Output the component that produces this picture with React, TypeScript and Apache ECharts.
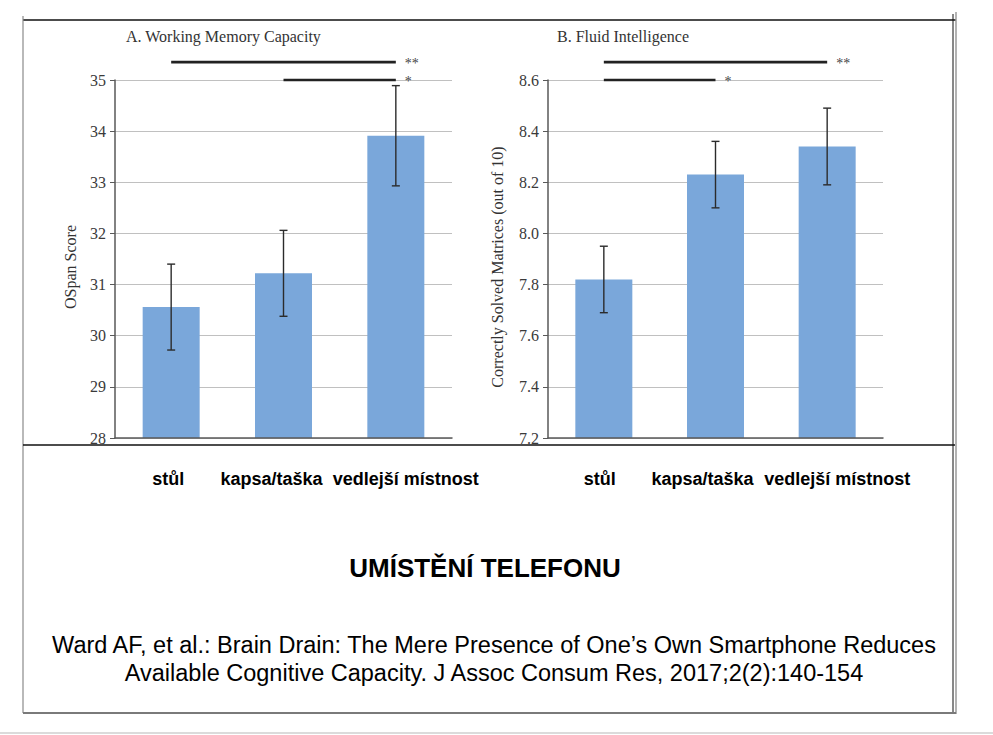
import React, { useEffect, useRef } from "react";
import * as echarts from "echarts";

const categories = ["stůl", "kapsa/taška", "vedlejší místnost"];
const ospanMeans = [30.56, 31.22, 33.91];
const ospanErrors = [0.84, 0.84, 0.98];
const fluidMeans = [7.82, 8.23, 8.34];
const fluidErrors = [0.13, 0.13, 0.15];
// significance brackets: [fromIndex, toIndex, yValue, label]
const sigA: [number, number, number, string][] = [
  [0, 2, 35.35, "**"],
  [1, 2, 35.0, "*"],
];
const sigB: [number, number, number, string][] = [
  [0, 2, 8.67, "**"],
  [0, 1, 8.6, "*"],
];
const titleA = "A. Working Memory Capacity";
const titleB = "B. Fluid Intelligence";
const yNameA = "OSpan Score";
const yNameB = "Correctly Solved Matrices (out of 10)";
const heading = "UMÍSTĚNÍ TELEFONU";
const citation1 = "Ward AF, et al.: Brain Drain: The Mere Presence of One’s Own Smartphone Reduces";
const citation2 = "Available Cognitive Capacity. J Assoc Consum Res, 2017;2(2):140-154";

const SERIF = "'Liberation Serif', 'Times New Roman', serif";
const SANS = "'Liberation Sans', Arial, sans-serif";
const BAR = "#7aa7da";

export default function App() {
  const ref = useRef<HTMLDivElement>(null);
  useEffect(() => {
    document.body.style.margin = "0";
    if (!ref.current) return;
    const chart = echarts.init(ref.current, null, { renderer: "svg" });
    const sigAll = [sigA, sigB];

    const errRender = (params: any, api: any) => {
      const x = api.value(0);
      const v = api.value(1);
      const e = api.value(2);
      const t = api.coord([x, v + e]);
      const b = api.coord([x, v - e]);
      const hw = 4;
      const st = { stroke: "#2b2b2b", lineWidth: 1.4 };
      return {
        type: "group",
        children: [
          { type: "line", shape: { x1: t[0], y1: t[1], x2: b[0], y2: b[1] }, style: st },
          { type: "line", shape: { x1: t[0] - hw, y1: t[1], x2: t[0] + hw, y2: t[1] }, style: st },
          { type: "line", shape: { x1: b[0] - hw, y1: b[1], x2: b[0] + hw, y2: b[1] }, style: st },
        ],
      };
    };
    const sigRender = (params: any, api: any) => {
      const a = api.coord([api.value(0), api.value(2)]);
      const c = api.coord([api.value(1), api.value(2)]);
      const label = sigAll[params.seriesIndex === 4 ? 0 : 1][params.dataIndex][3];
      return {
        type: "group",
        children: [
          { type: "line", shape: { x1: a[0], y1: a[1], x2: c[0], y2: c[1] }, style: { stroke: "#222", lineWidth: 2.6 } },
          {
            type: "text",
            x: c[0] + 9,
            y: c[1] + 1,
            style: { text: label, fill: "#444", font: `14px ${SERIF}`, verticalAlign: "middle", textAlign: "left" },
          },
        ],
      };
    };

    const shifts = [
      [-3, -12, 10],
      [-4, -13, 10],
    ];
    const rich = (g: number) => {
      const r: any = {};
      shifts[g].forEach((d, i) => {
        r["s" + i] = {
          fontFamily: SANS,
          fontWeight: "bold",
          fontSize: 18,
          color: "#000",
          padding: d < 0 ? [0, -2 * d, 0, 0] : [0, 0, 0, 2 * d],
        };
      });
      return r;
    };

    const yAxisCommon = {
      type: "value",
      nameLocation: "middle",
      nameRotate: 90,
      nameTextStyle: { fontFamily: SERIF, fontSize: 16, color: "#333", padding: [0, 16, 0, 0] },
      axisLine: { show: true, lineStyle: { color: "#595959", width: 1.5 } },
      axisTick: { show: true, length: 5, lineStyle: { color: "#595959" } },
      splitLine: { lineStyle: { color: "#c0c0c0", width: 1 } },
      axisLabel: { fontFamily: SERIF, fontSize: 16, color: "#3a3a3a", margin: 9 },
    };
    const xAxisCommon = (g: number) => ({
      type: "category",
      data: categories,
      axisLine: { show: true, lineStyle: { color: "#595959", width: 1.5 } },
      axisTick: { show: false },
      z: 5,
      axisLabel: {
        margin: 32,
        interval: 0,
        formatter: (v: string, i: number) => `{s${i}|${v}}`,
        rich: rich(g),
      },
    });

    const option: any = {
      animation: false,
      backgroundColor: "#fff",
      title: [
        { text: titleA, left: 121, top: 23, textStyle: { fontFamily: SERIF, fontSize: 16, fontWeight: "normal", color: "#333" } },
        { text: titleB, left: 552, top: 23, textStyle: { fontFamily: SERIF, fontSize: 16, fontWeight: "normal", color: "#333" } },
      ],
      grid: [
        { left: 115, right: 541, top: 80, bottom: 297 },
        { left: 548, right: 110, top: 80, bottom: 297 },
      ],
      xAxis: [
        { ...xAxisCommon(0), gridIndex: 0 },
        { ...xAxisCommon(1), gridIndex: 1 },
      ],
      yAxis: [
        { ...yAxisCommon, gridIndex: 0, min: 28, max: 35, interval: 1, name: yNameA, nameGap: 37 },
        {
          ...yAxisCommon,
          gridIndex: 1,
          min: 7.2,
          max: 8.6,
          interval: 0.2,
          name: yNameB,
          nameGap: 43,
          axisLabel: { ...yAxisCommon.axisLabel, formatter: (v: number) => v.toFixed(1) },
        },
      ],
      series: [
        { type: "bar", xAxisIndex: 0, yAxisIndex: 0, data: ospanMeans, barWidth: 57, itemStyle: { color: BAR } },
        { type: "bar", xAxisIndex: 1, yAxisIndex: 1, data: fluidMeans, barWidth: 57, itemStyle: { color: BAR } },
        {
          type: "custom",
          xAxisIndex: 0,
          yAxisIndex: 0,
          z: 4,
          renderItem: errRender,
          encode: { x: 0, y: 1 },
          data: ospanMeans.map((v, i) => [i, v, ospanErrors[i]]),
        },
        {
          type: "custom",
          xAxisIndex: 1,
          yAxisIndex: 1,
          z: 4,
          renderItem: errRender,
          encode: { x: 0, y: 1 },
          data: fluidMeans.map((v, i) => [i, v, fluidErrors[i]]),
        },
        {
          type: "custom",
          xAxisIndex: 0,
          yAxisIndex: 0,
          z: 4,
          clip: false,
          renderItem: sigRender,
          encode: { x: 0, y: 2 },
          data: sigA.map((s) => [s[0], s[1], s[2]]),
        },
        {
          type: "custom",
          xAxisIndex: 1,
          yAxisIndex: 1,
          z: 4,
          clip: false,
          renderItem: sigRender,
          encode: { x: 0, y: 2 },
          data: sigB.map((s) => [s[0], s[1], s[2]]),
        },
      ],
      graphic: [
        { type: "line", z: 100, shape: { x1: 23, y1: 20, x2: 956, y2: 20 }, style: { stroke: "#111", lineWidth: 1.5 } },
        { type: "line", z: 100, shape: { x1: 23, y1: 16, x2: 23, y2: 713 }, style: { stroke: "#8a8a8a", lineWidth: 1.2 } },
        { type: "line", z: 100, shape: { x1: 953, y1: 14, x2: 953, y2: 713 }, style: { stroke: "#111", lineWidth: 1 } },
        { type: "line", z: 100, shape: { x1: 956, y1: 12, x2: 956, y2: 714 }, style: { stroke: "#9a9a9a", lineWidth: 1.5 } },
        { type: "line", z: 100, shape: { x1: 23, y1: 445, x2: 955, y2: 445 }, style: { stroke: "#111", lineWidth: 1.5 } },
        { type: "line", z: 100, shape: { x1: 23, y1: 713, x2: 956, y2: 713 }, style: { stroke: "#7a7a7a", lineWidth: 2 } },
        { type: "line", z: 100, shape: { x1: 0, y1: 733, x2: 993, y2: 733 }, style: { stroke: "#cfcfcf", lineWidth: 1.5 } },
        {
          type: "text",
          x: 485,
          y: 568,
          style: { text: heading, font: `bold 26px ${SANS}`, fill: "#000", textAlign: "center", textVerticalAlign: "middle" },
        },
        {
          type: "text",
          x: 494,
          y: 645,
          style: { text: citation1, font: `23.5px ${SANS}`, fill: "#000", textAlign: "center", textVerticalAlign: "middle" },
        },
        {
          type: "text",
          x: 494,
          y: 673,
          style: { text: citation2, font: `23.5px ${SANS}`, fill: "#000", textAlign: "center", textVerticalAlign: "middle" },
        },
      ],
    };
    chart.setOption(option);
    return () => chart.dispose();
  }, []);
  return <div ref={ref} style={{ width: 993, height: 735 }} />;
}
